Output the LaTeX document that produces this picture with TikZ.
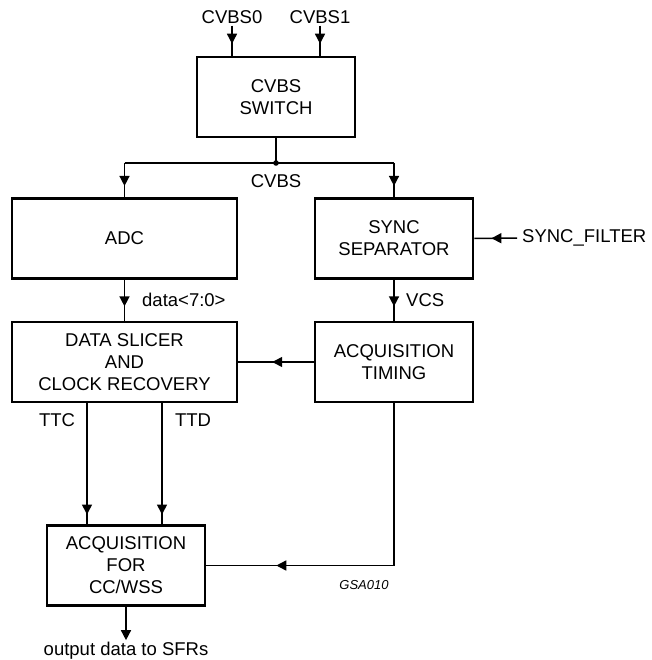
\documentclass[tikz,border=0pt]{standalone}
\usepackage{fontspec}
\setmainfont{Liberation Sans}
\usetikzlibrary{arrows.meta,positioning,decorations.markings}

\begin{document}
\begin{tikzpicture}[x=1pt,y=-1pt,
  font=\fontsize{18.5}{22}\selectfont,
  blk/.style={draw,line width=2.6pt,minimum width=158pt,minimum height=80pt,align=center,inner sep=0pt},
  wideblk/.style={blk,minimum width=225pt},
  lbl/.style={inner sep=2pt},
  wire/.style={line width=1.5pt},
  midarr/.style={wire,postaction={decorate},decoration={markings,mark=at position #1 with {\arrow{Triangle[length=10pt,width=10pt]}}}},
  sig/.style={wire,-{Triangle[length=10pt,width=10pt]}}
]
\useasboundingbox (0,0) rectangle (651,660);
\node[blk] (switch) at (276,97) {CVBS\\SWITCH};
\node[wideblk] (adc) at (124.5,238.5) {ADC};
\node[blk] (sync) at (394,238.5) {SYNC\\SEPARATOR};
\node[wideblk] (slicer) at (124.5,362) {DATA SLICER\\AND\\CLOCK RECOVERY};
\node[blk] (timing) at (394,362) {ACQUISITION\\TIMING};
\node[blk] (acqcc) at (126,565.5) {ACQUISITION\\FOR\\CC/WSS};

\node[lbl] (cvbs0) at (232,17) {CVBS0};
\node[lbl] (cvbs1) at (320,17) {CVBS1};
\coordinate (jn) at (276,163);
\node[lbl] (cvbslbl) at (276,181) {CVBS};
\node[lbl,anchor=west,inner sep=5pt] (filter) at (517,238) {SYNC\_FILTER};
\node[lbl,anchor=west] (datalbl) at (140,300) {data<7:0>};
\node[lbl,anchor=west] (vcslbl) at (404,300) {VCS};
\node[lbl] (ttc) at (57,420) {TTC};
\node[lbl] (ttd) at (193,420) {TTD};
\node[lbl] (outlbl) at (126,651) {output data to SFRs};
\node[lbl,font=\itshape\fontsize{13}{15}\selectfont] (tag) at (364,585) {GSA010};

\draw[midarr=0.6] (cvbs0.south) -- (cvbs0.south |- switch.north);
\draw[midarr=0.6] (cvbs1.south) -- (cvbs1.south |- switch.north);
\draw[wire] (switch.south) -- (jn);
\fill (jn) circle (2.8pt);
\draw[wire] (adc.north |- jn) -- (sync.north |- jn);
\draw[midarr=0.67] (adc.north |- jn) -- (adc.north);
\draw[midarr=0.67] (sync.north |- jn) -- (sync.north);
\draw[midarr=0.6] (filter.west) -- (sync.east);
\draw[midarr=0.65] (adc.south) -- (slicer.north);
\draw[midarr=0.65] (sync.south) -- (timing.north);
\draw[midarr=0.55] (timing.west) -- (slicer.east);
\draw[midarr=0.92] ([xshift=-37.5pt]slicer.south) -- ([xshift=-37.5pt]slicer.south |- acqcc.north);
\draw[midarr=0.92] ([xshift=37.5pt]slicer.south) -- ([xshift=37.5pt]slicer.south |- acqcc.north);
\draw[midarr=0.8] (timing.south) |- (acqcc.east);
\draw[sig] (acqcc.south) -- (outlbl.north);
\end{tikzpicture}
\end{document}
